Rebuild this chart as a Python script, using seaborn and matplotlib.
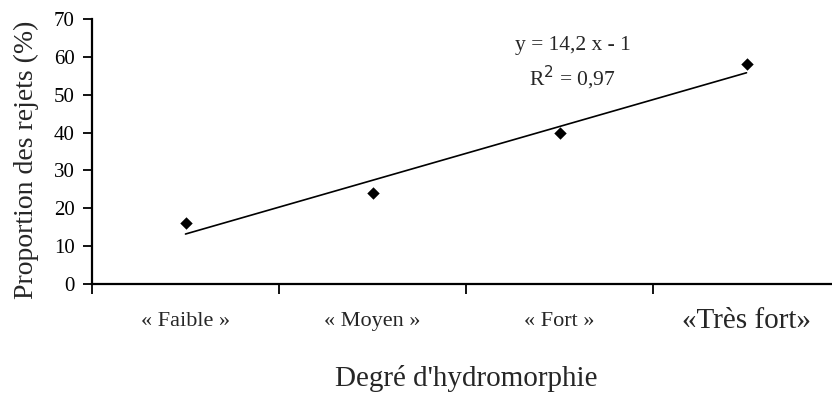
import numpy as np
import pandas as pd
import matplotlib
matplotlib.use("Agg")
import matplotlib.pyplot as plt
import seaborn as sns

categories = ["« Faible »", "« Moyen »", "« Fort »", "«Très fort»"]
values = [16, 24, 40, 58]
yticks = [0, 10, 20, 30, 40, 50, 60, 70]

sns.set_theme(style="white")
plt.rcParams['font.family'] = ['Liberation Serif', 'DejaVu Serif']

df = pd.DataFrame({"pos": np.arange(len(categories)), "val": values})

fig = plt.figure(figsize=(8.32, 3.97), dpi=100)
ax = fig.add_axes([92/832, 1 - 284/397, 1 - 92/832, (284 - 19)/397])

sns.regplot(data=df, x="pos", y="val", ci=None, truncate=True, ax=ax,
            marker="D", scatter_kws={"s": 40, "color": "black", "alpha": 1, "zorder": 3, "linewidths": 0},
            line_kws={"color": "black", "lw": 1.2})

slope, intercept = np.polyfit(df["pos"] + 1, df["val"], 1)
pred = slope * (df["pos"] + 1) + intercept
r2 = 1 - ((df["val"] - pred) ** 2).sum() / ((df["val"] - df["val"].mean()) ** 2).sum()
eq = f"y = {slope:.1f} x - {abs(intercept):.0f}".replace(".", ",")
ax.text(2.07, 62.9, eq, ha="center", va="center", fontsize=15.5)
ax.text(2.07, 54.3, f"R$^2$ = {r2:.2f}".replace(".", ","), ha="center", va="center", fontsize=15.5)

ax.set_xlim(-0.5, -0.5 + 740/187)
ax.set_ylim(0, 70)
ax.set_yticks(yticks)
ax.set_yticklabels([str(t) for t in yticks], fontsize=15)
ax.set_xticks([-0.5, 0.5, 1.5, 2.5])
ax.set_xticklabels([])
for i, c in enumerate(categories):
    fs = 21 if i == 3 else 16
    ax.text(i, -0.14, c, transform=ax.get_xaxis_transform(), ha="center", va="center", fontsize=fs)
ax.text(1.5, -0.355, "Degré d'hydromorphie", transform=ax.get_xaxis_transform(),
        ha="center", va="center", fontsize=21)
ax.set_xlabel("")
ax.set_ylabel("Proportion des rejets (%)", fontsize=20, va="center")
ax.yaxis.set_label_coords(-0.088, 0.47)

for s in ["top", "right"]:
    ax.spines[s].set_visible(False)
for s in ["left", "bottom"]:
    ax.spines[s].set_color("black")
    ax.spines[s].set_linewidth(1.6)
ax.tick_params(axis="y", which="both", direction="out", length=6.5, width=1.3, color="black",
               left=True, labelcolor="black", pad=6)
ax.tick_params(axis="x", which="both", direction="out", length=7, width=1.3, color="black",
               bottom=True, labelcolor="black")
ax.set_facecolor("white")
fig.patch.set_facecolor("white")

fig.savefig("out.png", dpi=100)
